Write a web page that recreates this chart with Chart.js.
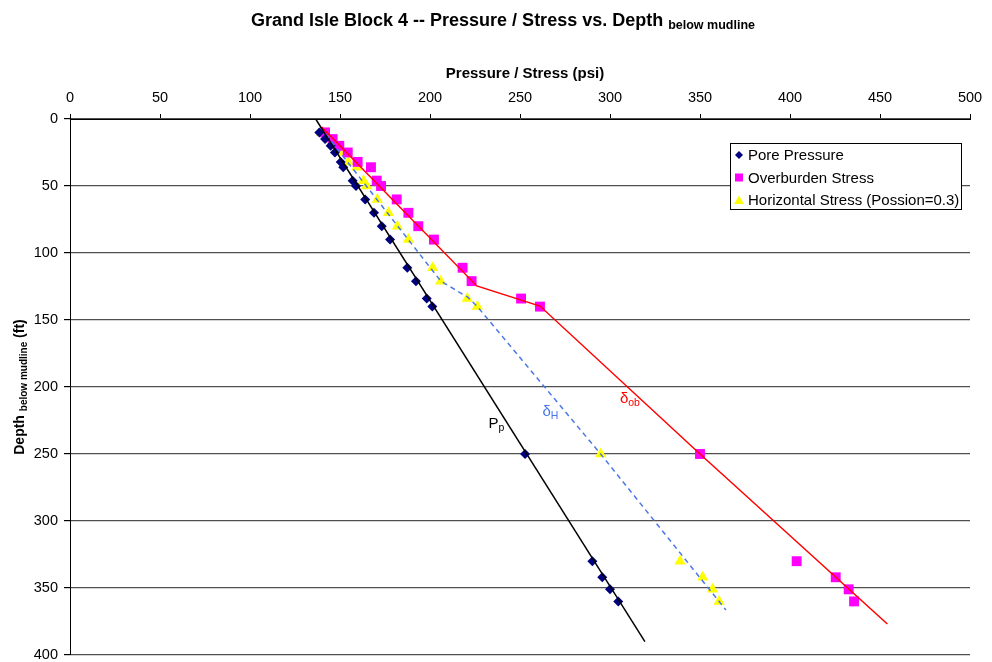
<!DOCTYPE html>
<html>
<head>
<meta charset="utf-8">
<title>Grand Isle Block 4 -- Pressure / Stress vs. Depth</title>
<script src="https://cdn.jsdelivr.net/npm/chart.js@4/dist/chart.umd.min.js"></script>
<style>
  body { margin: 0; background: #fff; }
  #wrap { width: 992px; height: 662px; }
</style>
</head>
<body>
<div id="wrap"><canvas id="graph" width="992" height="662"></canvas></div>
<script>
/* depths (ft below mudline) shared by the three measured series */
var depth = [10, 15, 20, 25, 32, 36, 46, 50, 60, 70, 80, 90, 111, 121, 134, 140, 250, 330, 342, 351, 360];
var porePressure = [138.5, 141.7, 144.8, 147.2, 150.4, 151.8, 157, 158.9, 164, 168.9, 173.2, 177.8, 187.4, 192.2, 198.2, 201.3, 252.8, 290.2, 295.7, 300, 304.6];
var overburden = [141.7, 145.9, 149.6, 154.3, 159.8, 167.2, 170.4, 172.8, 181.5, 188, 193.5, 202.2, 218.1, 223.1, 250.6, 261.1, 350, 403.7, 425.4, 432.6, 435.6];
var horizontal = [139.8, 143.5, 147.2, 150.9, 154.6, 159.3, 163, 164.8, 170.7, 176.9, 181.9, 188, 201.5, 205.9, 220.7, 226.3, 294.8, 338.9, 351.5, 357, 360.6];

/* hand drawn trend lines */
var ppLineStress = [136.5, 319.4];
var ppLineDepth = [0, 390];
var obLineStress = [139.8, 226, 261.1, 350, 454.1];
var obLineDepth = [6, 124.6, 139.6, 250, 376.9];
var hLineStress = [139, 206, 221, 226.3, 294.8, 364.4];
var hLineDepth = [6, 121, 133, 140, 250, 366.4];

/* axis ticks */
var stressTicks = [0, 50, 100, 150, 200, 250, 300, 350, 400, 450, 500];
var depthTicks = [0, 50, 100, 150, 200, 250, 300, 350, 400];

var legendNames = ['Pore Pressure', 'Overburden Stress', 'Horizontal Stress (Possion=0.3)'];

function pts(xs, ys) {
	var data = [];
	for (var i = 0; i < xs.length; i++) {
		data.push({ x: xs[i], y: ys[i] });
	}
	return data;
}

var FONT = 'Arial, "Liberation Sans", sans-serif';
Chart.defaults.font.family = FONT;
Chart.defaults.color = '#000';

/* titles, subscripts, labels and the legend box */
var textPlugin = {
	id: 'texts',
	afterDraw: function(chart) {
		var ctx = chart.ctx;
		var xs = chart.scales.x, ys = chart.scales.y;
		ctx.save();
		ctx.fillStyle = '#000';
		ctx.textBaseline = 'alphabetic';

		// main title
		var big = 'bold 18px ' + FONT, small = 'bold 12.5px ' + FONT;
		var t1 = 'Grand Isle Block 4 -- Pressure / Stress vs. Depth ', t2 = 'below mudline';
		ctx.font = big; var w1 = ctx.measureText(t1).width;
		ctx.font = small; var w2 = ctx.measureText(t2).width;
		var sx = 503 - (w1 + w2) / 2;
		ctx.font = big; ctx.textAlign = 'left'; ctx.fillText(t1, sx, 26);
		ctx.font = small; ctx.fillText(t2, sx + w1, 29);

		// x axis title
		ctx.font = 'bold 15px ' + FONT; ctx.textAlign = 'center';
		ctx.fillText('Pressure / Stress (psi)', (xs.left + xs.right) / 2 + 5, 78);

		// y axis title, rotated
		ctx.translate(24, (ys.top + ys.bottom) / 2);
		ctx.rotate(-Math.PI / 2);
		var a = 'Depth ', b = 'below mudline', c = ' (ft)';
		ctx.font = 'bold 14px ' + FONT; var wa = ctx.measureText(a).width, wc = ctx.measureText(c).width;
		ctx.font = 'bold 10px ' + FONT; var wb = ctx.measureText(b).width;
		var st = -(wa + wb + wc) / 2;
		ctx.textAlign = 'left';
		ctx.font = 'bold 14px ' + FONT; ctx.fillText(a, st, 0);
		ctx.font = 'bold 10px ' + FONT; ctx.fillText(b, st + wa, 3);
		ctx.font = 'bold 14px ' + FONT; ctx.fillText(c, st + wa + wb, 0);
		ctx.setTransform(1, 0, 0, 1, 0, 0);

		// line labels
		function sub(main, s, px, py, color) {
			ctx.fillStyle = color;
			ctx.font = '15px ' + FONT; ctx.textAlign = 'left';
			var x0 = xs.getPixelForValue(px), y0 = ys.getPixelForValue(py);
			ctx.fillText(main, x0, y0);
			var w = ctx.measureText(main).width;
			ctx.font = '10.5px ' + FONT;
			ctx.fillText(s, x0 + w, y0 + 3);
		}
		sub('P', 'p', 232.5, 230.6, '#000');
		sub('\u03b4', 'H', 262.5, 221.6, '#4a78e8');
		sub('\u03b4', 'ob', 305.5, 212, '#ff0000');

		// legend
		var lx = 730, ly = 143, lw = 231, lh = 66;
		ctx.fillStyle = '#fff'; ctx.fillRect(lx, ly, lw, lh);
		ctx.strokeStyle = '#000'; ctx.lineWidth = 1;
		ctx.strokeRect(lx + 0.5, ly + 0.5, lw, lh);
		ctx.font = '15px ' + FONT; ctx.textAlign = 'left'; ctx.textBaseline = 'middle';
		for (var i = 0; i < legendNames.length; i++) {
			var cy = ly + 12 + i * 22.5, mx = lx + 9;
			ctx.beginPath();
			if (i === 0) {
				ctx.fillStyle = '#000080';
				ctx.moveTo(mx, cy - 4); ctx.lineTo(mx + 4, cy); ctx.lineTo(mx, cy + 4); ctx.lineTo(mx - 4, cy);
			} else if (i === 1) {
				ctx.fillStyle = '#ff00ff';
				ctx.rect(mx - 4, cy - 4, 8, 8);
			} else {
				ctx.fillStyle = '#ffff00';
				ctx.moveTo(mx, cy - 4.5); ctx.lineTo(mx + 5, cy + 4); ctx.lineTo(mx - 5, cy + 4);
			}
			ctx.closePath(); ctx.fill();
			ctx.fillStyle = '#000';
			ctx.fillText(legendNames[i], lx + 18, cy + 1);
		}
		ctx.restore();
	}
};

var ctx = document.getElementById('graph');
var chart = new Chart(ctx, {
	type: 'scatter',
	data: {
		datasets: [{
			label: 'Pp line',
			data: pts(ppLineStress, ppLineDepth),
			showLine: true, borderColor: '#000', borderWidth: 1.5, pointRadius: 0
		}, {
			label: 'ob line',
			data: pts(obLineStress, obLineDepth),
			showLine: true, borderColor: '#ff0000', borderWidth: 1.5, pointRadius: 0
		}, {
			label: 'H line',
			data: pts(hLineStress, hLineDepth),
			showLine: true, borderColor: '#4a78e8', borderWidth: 1.5, borderDash: [5, 4], pointRadius: 0
		}, {
			label: legendNames[0],
			data: pts(porePressure, depth),
			pointStyle: 'rectRot', pointRadius: 5, backgroundColor: '#000080', borderColor: '#000080', borderWidth: 0
		}, {
			label: legendNames[1],
			data: pts(overburden, depth),
			pointStyle: 'rect', pointRadius: 7, backgroundColor: '#ff00ff', borderColor: '#ff00ff', borderWidth: 0
		}, {
			label: legendNames[2],
			data: pts(horizontal, depth),
			pointStyle: 'triangle', pointRadius: 6.5, backgroundColor: '#ffff00', borderColor: '#ffff00', borderWidth: 0
		}]
	},
	options: {
		responsive: false,
		animation: false,
		layout: { padding: { top: 0, left: 0, right: 22, bottom: 7 } },
		plugins: { legend: { display: false }, tooltip: { enabled: false } },
		scales: {
			x: {
				type: 'linear', position: 'top', min: 0, max: 500,
				afterFit: function(s) { s.height = 119; },
				afterBuildTicks: function(s) { s.ticks = stressTicks.map(function(v) { return { value: v }; }); },
				ticks: { font: { size: 14.5 }, padding: 7, maxRotation: 0 },
				grid: { drawOnChartArea: false, drawTicks: true, tickLength: 5, tickColor: '#000' },
				border: { color: '#000', width: 1 }
			},
			y: {
				type: 'linear', reverse: true, min: 0, max: 400,
				afterFit: function(s) { s.width = 70; s.paddingTop = 0; s.paddingBottom = 0; },
				afterBuildTicks: function(s) { s.ticks = depthTicks.map(function(v) { return { value: v }; }); },
				ticks: { font: { size: 14.5 }, padding: 6 },
				grid: { color: '#505050', lineWidth: 1.2, tickLength: 6, tickColor: '#000' },
				border: { color: '#000', width: 1 }
			}
		}
	},
	plugins: [textPlugin]
});
</script>
</body>
</html>
